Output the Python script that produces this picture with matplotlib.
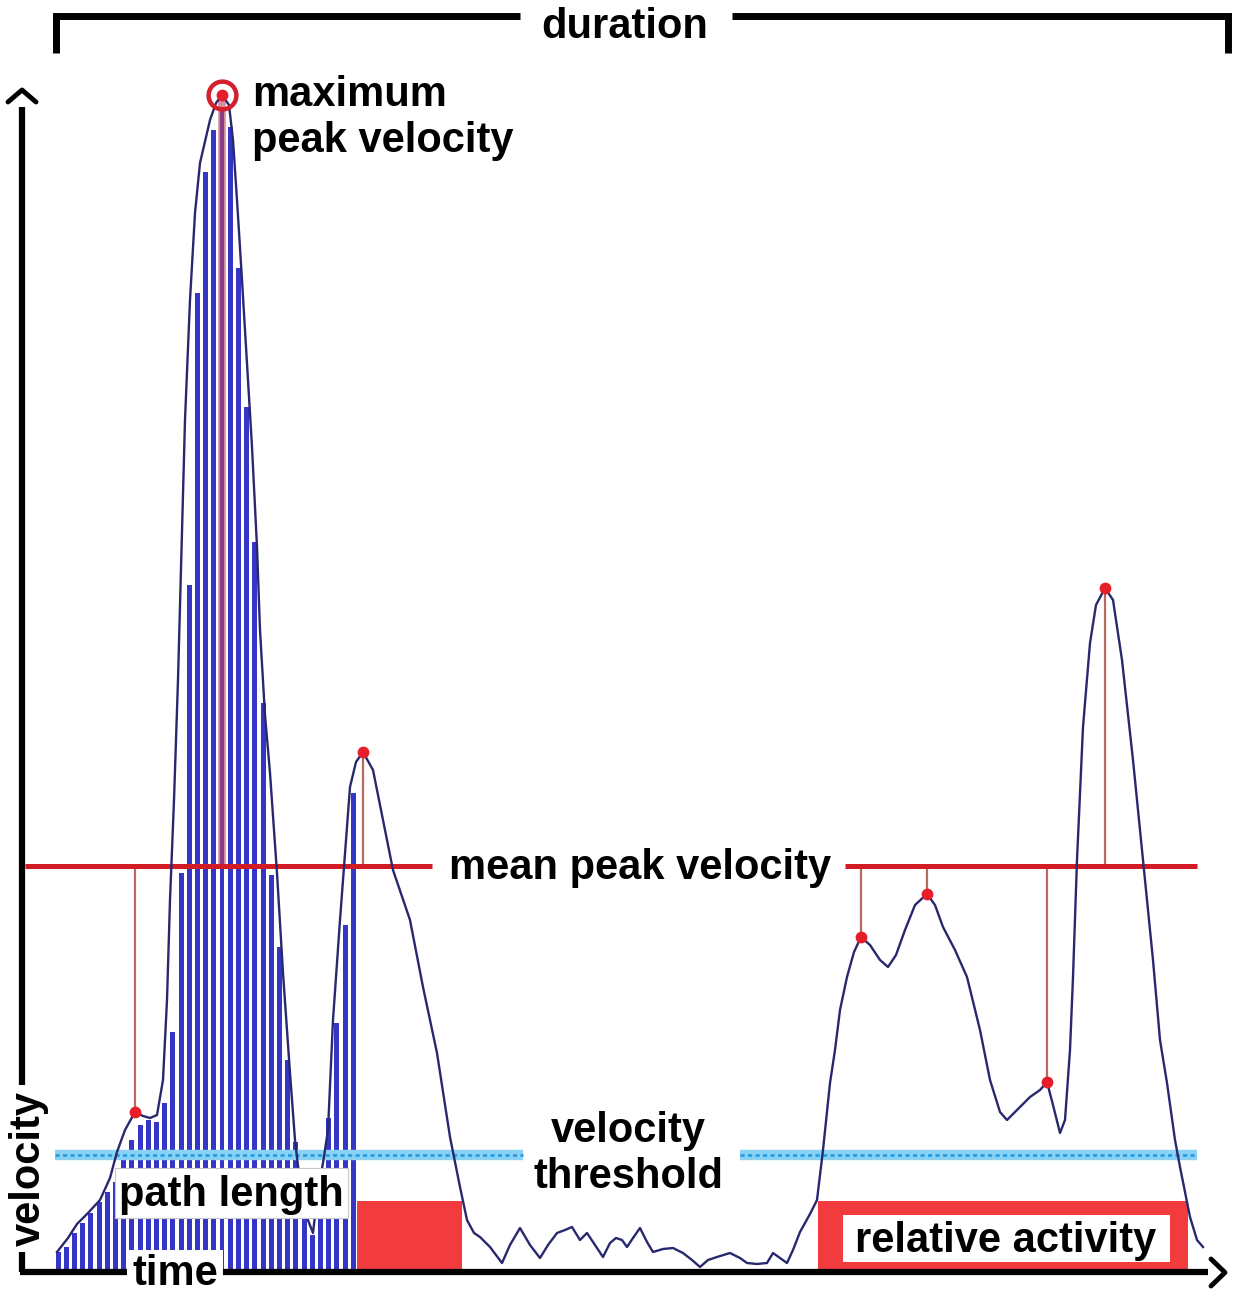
import matplotlib.pyplot as plt
from matplotlib.patches import Rectangle
import numpy as np

# velocity trace (time in s, velocity in cm/s)
time_s = [0.35, 0.46, 0.55, 0.66, 0.78, 0.88, 0.95, 1.03, 1.13, 1.21,
          1.28, 1.35, 1.41, 1.45, 1.48, 1.52, 1.56, 1.60, 1.63, 1.68,
          1.73, 1.78, 1.88, 1.94, 2.00, 2.07, 2.11, 2.15, 2.20, 2.25,
          2.30, 2.35, 2.38, 2.43, 2.48, 2.55, 2.61, 2.68, 2.73, 2.78,
          2.84, 2.91, 2.96, 3.01, 3.06, 3.11, 3.18, 3.23, 3.28, 3.34,
          3.41, 3.51, 3.61, 3.71, 3.88, 4.01, 4.15, 4.28, 4.38, 4.45,
          4.52, 4.58, 4.68, 4.80, 4.88, 4.98, 5.08, 5.18, 5.26, 5.35,
          5.43, 5.50, 5.58, 5.65, 5.73, 5.81, 5.88, 5.94, 6.00, 6.05,
          6.11, 6.18, 6.25, 6.31, 6.41, 6.51, 6.61, 6.70, 6.78, 6.86,
          6.95, 7.08, 7.18, 7.25, 7.35, 7.45, 7.51, 7.58, 7.65, 7.71,
          7.78, 7.88, 7.95, 8.01, 8.08, 8.13, 8.18, 8.25, 8.32, 8.39,
          8.48, 8.58, 8.66, 8.74, 8.83, 8.93, 9.05, 9.13, 9.21, 9.33,
          9.45, 9.58, 9.68, 9.78, 9.85, 9.93, 10.08, 10.18, 10.25, 10.31,
          10.38, 10.43, 10.48, 10.51, 10.55, 10.61, 10.68, 10.74, 10.83, 10.91,
          11.00, 11.11, 11.21, 11.31, 11.38, 11.45, 11.53, 11.58, 11.68, 11.75,
          11.81]
velocity = [1.9, 3.3, 4.7, 5.8, 7.1, 9.3, 11.9, 14.1, 15.9, 15.5,
            15.3, 15.6, 19.1, 27.1, 37.1, 47.1, 59.1, 74.1, 85.1, 97.1,
            105.8, 110.8, 115.1, 116.8, 117.6, 116.6, 113.1, 107.1, 99.1, 90.8,
            82.4, 72.4, 64.1, 55.6, 49.8, 39.8, 29.8, 19.8, 13.1, 8.8,
            5.6, 3.8, 8.1, 10.8, 14.1, 25.1, 35.1, 41.8, 48.4, 50.9,
            51.9, 50.1, 45.1, 40.1, 35.1, 28.4, 21.8, 13.4, 8.4, 5.1,
            3.8, 3.4, 2.4, 0.8, 2.6, 4.3, 2.6, 1.3, 2.6, 3.8,
            4.1, 4.4, 3.1, 3.8, 2.6, 1.4, 2.8, 3.3, 3.1, 2.4,
            3.3, 4.3, 2.9, 1.9, 2.2, 2.3, 1.8, 1.1, 0.4, 1.1,
            1.4, 1.8, 1.3, 0.8, 0.7, 0.8, 1.8, 1.3, 0.8, 2.1,
            3.9, 5.7, 7.1, 12.1, 18.8, 22.1, 26.1, 29.4, 31.9, 33.4,
            32.6, 31.1, 30.4, 31.6, 34.1, 36.6, 37.7, 36.6, 34.4, 32.1,
            29.4, 24.1, 19.1, 15.9, 15.1, 15.9, 17.4, 18.1, 18.9, 16.6,
            13.8, 15.1, 22.1, 29.4, 41.1, 54.4, 62.8, 66.6, 68.3, 67.1,
            61.1, 51.1, 41.1, 31.1, 23.1, 18.8, 13.1, 10.4, 5.4, 3.1,
            2.4]

# detected peaks
peak_t = [1.13, 2.00, 3.41, 8.39, 9.05, 10.25, 10.83]
peak_v = [15.9, 117.6, 51.9, 33.4, 37.7, 18.9, 68.3]
max_idx = 1

# samples summed for the path length
sample_t0 = 0.36
sample_dt = 0.082
sample_v = [1.9, 2.4, 3.8, 4.8, 5.8, 6.9, 7.9, 8.9, 11.9, 13.1,
            14.6, 15.1, 14.9, 16.8, 23.9, 39.8, 68.6, 97.8, 109.9, 114.1,
            116.4, 114.4, 100.3, 86.4, 72.9, 56.8, 39.6, 32.4, 21.1, 12.9,
            7.6, 3.6, 8.6, 15.3, 24.8, 34.6, 47.8]

mean_peak = 40.5
threshold = 11.6
active = [(3.35, 4.40), (7.96, 11.66)]
active_band = 7.0

BLUE = '#3535c6'
NAVY = '#28286e'
RED = '#d11c26'
BRIGHT = '#f23b3d'
STEM = '#b86a5e'

plt.rcParams['font.family'] = ['Liberation Sans', 'DejaVu Sans']
FS = 30

fig = plt.figure(figsize=(12.38, 13.0), dpi=100)
ax = fig.add_axes([0, 0, 1, 1])
ax.set_xlim(-0.22, 12.16)
ax.set_ylim(-2.9, 127.1)
ax.axis('off')

# relative activity periods
for a, b in active:
    ax.add_patch(Rectangle((a, 0.2), b - a, active_band - 0.2,
                           facecolor=BRIGHT, edgecolor='none', zorder=1))

# path length samples
bar_t = sample_t0 + sample_dt * np.arange(len(sample_v))
ax.bar(bar_t, sample_v, width=0.05, color=BLUE, zorder=2)

# stems from peaks to mean peak velocity
for i, (pt, pv) in enumerate(zip(peak_t, peak_v)):
    if i == max_idx:
        ax.plot([pt, pt], [mean_peak, pv], color='#c0405a', lw=5.5,
                alpha=0.6, zorder=3, solid_capstyle='butt')
    else:
        ax.plot([pt, pt], [mean_peak, pv], color=STEM, lw=1.6, zorder=3)

# velocity threshold
for a, b in [(0.33, 5.01), (7.18, 11.75)]:
    ax.plot([a, b], [threshold, threshold], color='#8ad2f3', lw=7.5,
            zorder=4, solid_capstyle='butt')
    ax.plot([a, b], [threshold, threshold], color='#2a9ce2', lw=2,
            ls=(0, (1.5, 1.2)), zorder=4)

# mean peak velocity
for a, b in [(0.03, 4.10), (8.23, 11.75)]:
    ax.plot([a, b], [mean_peak, mean_peak], color=RED, lw=3.6,
            zorder=4, solid_capstyle='butt')

# velocity curve
ax.plot(time_s, velocity, color=NAVY, lw=1.7, zorder=5)

# peaks
ax.plot(peak_t, peak_v, 'o', color='#e51e2a', ms=8.5, zorder=6, mec='none')
ax.plot(peak_t[max_idx], peak_v[max_idx], 'o', mfc='none', mec='#d4202a',
        ms=20, mew=3.2, zorder=6)

# axes
ax.plot([0, 0], [-0.1, 116.4], color='black', lw=4.5, zorder=6,
        solid_capstyle='butt')
ax.plot([-0.02, 11.86], [-0.1, -0.1], color='black', lw=4.5, zorder=6,
        solid_capstyle='butt')
ax.plot([-0.14, 0, 0.14], [116.9, 118.1, 116.9], color='black', lw=3.5,
        zorder=6, solid_capstyle='round', solid_joinstyle='round')
ax.plot([11.89, 12.03, 11.89], [1.2, -0.15, -1.5], color='black', lw=3.5,
        zorder=6, solid_capstyle='round', solid_joinstyle='round')

# duration bracket
ax.plot([0.34, 0.34, 4.98], [121.8, 125.5, 125.5], color='black', lw=5,
        solid_capstyle='butt', solid_joinstyle='miter', zorder=6)
ax.plot([7.10, 12.06, 12.06], [125.5, 125.5, 121.8], color='black', lw=5,
        solid_capstyle='butt', solid_joinstyle='miter', zorder=6)

tkw = dict(fontsize=FS, fontweight='bold', color='black', zorder=9)
ax.text(6.03, 123.3, 'duration', ha='center', va='baseline', **tkw)
ax.text(2.30, 116.5, 'maximum', ha='left', va='baseline', **tkw)
ax.text(2.30, 111.9, 'peak velocity', ha='left', va='baseline', **tkw)
ax.text(6.18, 39.2, 'mean peak velocity', ha='center', va='baseline', **tkw)
ax.text(6.06, 12.9, 'velocity', ha='center', va='baseline', **tkw)
ax.text(6.06, 8.3, 'threshold', ha='center', va='baseline', **tkw)

# path length label box
ax.add_patch(Rectangle((0.93, 5.3), 2.33, 5.0, facecolor='white',
                       edgecolor='#c8c8c8', lw=0.8, zorder=7))
ax.text(2.09, 6.5, 'path length', ha='center', va='baseline', **tkw)

# time label
ax.add_patch(Rectangle((1.05, -2.1), 0.96, 4.2, facecolor='white',
                       edgecolor='none', zorder=7))
ax.text(1.53, -1.4, 'time', ha='center', va='baseline', **tkw)

# velocity label
ax.add_patch(Rectangle((-0.14, 1.9), 0.40, 16.7, facecolor='white',
                       edgecolor='none', zorder=7))
ax.text(0.07, 10.3, 'velocity', ha='center', va='center', rotation=90, **tkw)

# relative activity label
ax.add_patch(Rectangle((8.21, 0.9), 3.27, 4.7, facecolor='white',
                       edgecolor='none', zorder=7))
ax.text(9.84, 1.9, 'relative activity', ha='center', va='baseline', **tkw)

fig.savefig('out.png', dpi=100)
